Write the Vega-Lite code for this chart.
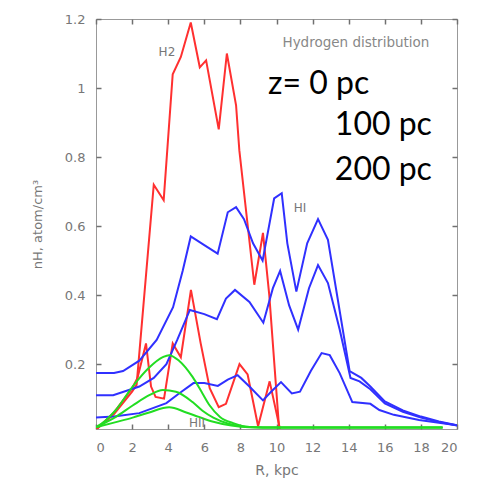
{
  "$schema": "https://vega.github.io/schema/vega-lite/v6.json",
  "width": 361,
  "height": 410,
  "autosize": {"type": "none"},
  "padding": {"left": 96, "top": 19, "right": 28, "bottom": 50},
  "background": "white",
  "config": {
    "view": {"stroke": "#999999", "strokeWidth": 1},
    "axis": {"labelFont": "DejaVu Sans", "titleFont": "DejaVu Sans", "labelColor": "#777777", "titleColor": "#777777", "domain": false, "grid": false}
  },
  "datasets": {
    "curves": [
      {"gas":"H2","z":0,"R":0,"v":0.01},{"gas":"H2","z":0,"R":1,"v":0.055},{"gas":"H2","z":0,"R":2,"v":0.12},{"gas":"H2","z":0,"R":2.25,"v":0.14},{"gas":"H2","z":0,"R":3.2,"v":0.72},{"gas":"H2","z":0,"R":3.75,"v":0.675},{"gas":"H2","z":0,"R":4.25,"v":1.04},{"gas":"H2","z":0,"R":4.7,"v":1.09},{"gas":"H2","z":0,"R":5.25,"v":1.19},{"gas":"H2","z":0,"R":5.75,"v":1.06},{"gas":"H2","z":0,"R":6.1,"v":1.08},{"gas":"H2","z":0,"R":6.8,"v":0.88},{"gas":"H2","z":0,"R":7.25,"v":1.1},{"gas":"H2","z":0,"R":7.76,"v":0.95},{"gas":"H2","z":0,"R":7.94,"v":0.82},{"gas":"H2","z":0,"R":8.77,"v":0.43},{"gas":"H2","z":0,"R":9.25,"v":0.58},{"gas":"H2","z":0,"R":9.6,"v":0.4},{"gas":"H2","z":0,"R":10.15,"v":0.01},
      {"gas":"H2","z":100,"R":0,"v":0.01},{"gas":"H2","z":100,"R":1,"v":0.06},{"gas":"H2","z":100,"R":2,"v":0.13},{"gas":"H2","z":100,"R":2.3,"v":0.16},{"gas":"H2","z":100,"R":2.77,"v":0.26},{"gas":"H2","z":100,"R":3.05,"v":0.135},{"gas":"H2","z":100,"R":3.3,"v":0.105},{"gas":"H2","z":100,"R":3.77,"v":0.1},{"gas":"H2","z":100,"R":4.25,"v":0.26},{"gas":"H2","z":100,"R":4.7,"v":0.22},{"gas":"H2","z":100,"R":5.26,"v":0.415},{"gas":"H2","z":100,"R":5.8,"v":0.26},{"gas":"H2","z":100,"R":6.3,"v":0.13},{"gas":"H2","z":100,"R":6.8,"v":0.075},{"gas":"H2","z":100,"R":7.2,"v":0.085},{"gas":"H2","z":100,"R":7.95,"v":0.2},{"gas":"H2","z":100,"R":8.4,"v":0.17},{"gas":"H2","z":100,"R":8.98,"v":0.02},{"gas":"H2","z":100,"R":9.62,"v":0.15},{"gas":"H2","z":100,"R":10.2,"v":0.01},
      {"gas":"HI","z":0,"R":0,"v":0.174},{"gas":"HI","z":0,"R":1,"v":0.174},{"gas":"HI","z":0,"R":1.5,"v":0.18},{"gas":"HI","z":0,"R":2.4,"v":0.21},{"gas":"HI","z":0,"R":3.36,"v":0.27},{"gas":"HI","z":0,"R":4.27,"v":0.365},{"gas":"HI","z":0,"R":4.8,"v":0.47},{"gas":"HI","z":0,"R":5.25,"v":0.57},{"gas":"HI","z":0,"R":6,"v":0.545},{"gas":"HI","z":0,"R":6.74,"v":0.52},{"gas":"HI","z":0,"R":7.3,"v":0.64},{"gas":"HI","z":0,"R":7.76,"v":0.655},{"gas":"HI","z":0,"R":8.2,"v":0.62},{"gas":"HI","z":0,"R":8.7,"v":0.55},{"gas":"HI","z":0,"R":9.23,"v":0.5},{"gas":"HI","z":0,"R":9.87,"v":0.68},{"gas":"HI","z":0,"R":10.29,"v":0.695},{"gas":"HI","z":0,"R":10.6,"v":0.55},{"gas":"HI","z":0,"R":11.1,"v":0.41},{"gas":"HI","z":0,"R":11.7,"v":0.55},{"gas":"HI","z":0,"R":12.3,"v":0.62},{"gas":"HI","z":0,"R":12.85,"v":0.56},{"gas":"HI","z":0,"R":14.05,"v":0.18},{"gas":"HI","z":0,"R":14.7,"v":0.16},{"gas":"HI","z":0,"R":15.2,"v":0.135},{"gas":"HI","z":0,"R":16,"v":0.092},{"gas":"HI","z":0,"R":17,"v":0.066},{"gas":"HI","z":0,"R":18,"v":0.048},{"gas":"HI","z":0,"R":19,"v":0.034},{"gas":"HI","z":0,"R":20,"v":0.023},
      {"gas":"HI","z":100,"R":0,"v":0.11},{"gas":"HI","z":100,"R":0.95,"v":0.11},{"gas":"HI","z":100,"R":2.4,"v":0.135},{"gas":"HI","z":100,"R":3.2,"v":0.16},{"gas":"HI","z":100,"R":3.9,"v":0.2},{"gas":"HI","z":100,"R":4.5,"v":0.27},{"gas":"HI","z":100,"R":5.2,"v":0.357},{"gas":"HI","z":100,"R":6,"v":0.345},{"gas":"HI","z":100,"R":6.7,"v":0.33},{"gas":"HI","z":100,"R":7.2,"v":0.39},{"gas":"HI","z":100,"R":7.7,"v":0.415},{"gas":"HI","z":100,"R":8.5,"v":0.38},{"gas":"HI","z":100,"R":9.27,"v":0.32},{"gas":"HI","z":100,"R":9.8,"v":0.42},{"gas":"HI","z":100,"R":10.2,"v":0.47},{"gas":"HI","z":100,"R":10.7,"v":0.37},{"gas":"HI","z":100,"R":11.2,"v":0.3},{"gas":"HI","z":100,"R":11.8,"v":0.42},{"gas":"HI","z":100,"R":12.3,"v":0.487},{"gas":"HI","z":100,"R":12.85,"v":0.435},{"gas":"HI","z":100,"R":13.5,"v":0.3},{"gas":"HI","z":100,"R":14.1,"v":0.16},{"gas":"HI","z":100,"R":14.6,"v":0.15},{"gas":"HI","z":100,"R":15.2,"v":0.127},{"gas":"HI","z":100,"R":16,"v":0.086},{"gas":"HI","z":100,"R":17,"v":0.062},{"gas":"HI","z":100,"R":18,"v":0.045},{"gas":"HI","z":100,"R":19,"v":0.032},{"gas":"HI","z":100,"R":20,"v":0.022},
      {"gas":"HI","z":200,"R":0,"v":0.045},{"gas":"HI","z":200,"R":1,"v":0.048},{"gas":"HI","z":200,"R":2.4,"v":0.058},{"gas":"HI","z":200,"R":3.9,"v":0.087},{"gas":"HI","z":200,"R":4.6,"v":0.115},{"gas":"HI","z":200,"R":5.4,"v":0.145},{"gas":"HI","z":200,"R":6,"v":0.145},{"gas":"HI","z":200,"R":6.75,"v":0.137},{"gas":"HI","z":200,"R":7.3,"v":0.155},{"gas":"HI","z":200,"R":7.85,"v":0.168},{"gas":"HI","z":200,"R":8.5,"v":0.135},{"gas":"HI","z":200,"R":9.25,"v":0.095},{"gas":"HI","z":200,"R":9.7,"v":0.12},{"gas":"HI","z":200,"R":10.25,"v":0.148},{"gas":"HI","z":200,"R":10.85,"v":0.115},{"gas":"HI","z":200,"R":11.3,"v":0.12},{"gas":"HI","z":200,"R":11.9,"v":0.18},{"gas":"HI","z":200,"R":12.5,"v":0.232},{"gas":"HI","z":200,"R":12.95,"v":0.226},{"gas":"HI","z":200,"R":13.5,"v":0.174},{"gas":"HI","z":200,"R":14.2,"v":0.09},{"gas":"HI","z":200,"R":15.2,"v":0.085},{"gas":"HI","z":200,"R":15.7,"v":0.067},{"gas":"HI","z":200,"R":16.5,"v":0.053},{"gas":"HI","z":200,"R":17.9,"v":0.038},{"gas":"HI","z":200,"R":19,"v":0.03},{"gas":"HI","z":200,"R":20,"v":0.023},
      {"gas":"HII","z":0,"R":0,"v":0.017},{"gas":"HII","z":0,"R":0.5,"v":0.035},{"gas":"HII","z":0,"R":1.1,"v":0.067},{"gas":"HII","z":0,"R":2.03,"v":0.135},{"gas":"HII","z":0,"R":2.95,"v":0.19},{"gas":"HII","z":0,"R":3.7,"v":0.22},{"gas":"HII","z":0,"R":4.05,"v":0.226},{"gas":"HII","z":0,"R":4.6,"v":0.21},{"gas":"HII","z":0,"R":5.35,"v":0.163},{"gas":"HII","z":0,"R":5.9,"v":0.115},{"gas":"HII","z":0,"R":6.3,"v":0.08},{"gas":"HII","z":0,"R":6.87,"v":0.047},{"gas":"HII","z":0,"R":7.6,"v":0.029},{"gas":"HII","z":0,"R":8.5,"v":0.018},{"gas":"HII","z":0,"R":10,"v":0.016},{"gas":"HII","z":0,"R":19.2,"v":0.016},
      {"gas":"HII","z":100,"R":0,"v":0.017},{"gas":"HII","z":100,"R":1.1,"v":0.047},{"gas":"HII","z":100,"R":2.03,"v":0.08},{"gas":"HII","z":100,"R":2.95,"v":0.11},{"gas":"HII","z":100,"R":3.7,"v":0.125},{"gas":"HII","z":100,"R":4.43,"v":0.12},{"gas":"HII","z":100,"R":5.35,"v":0.09},{"gas":"HII","z":100,"R":5.9,"v":0.065},{"gas":"HII","z":100,"R":6.5,"v":0.045},{"gas":"HII","z":100,"R":7.3,"v":0.028},{"gas":"HII","z":100,"R":8.5,"v":0.018},{"gas":"HII","z":100,"R":10,"v":0.016},{"gas":"HII","z":100,"R":19.2,"v":0.016},
      {"gas":"HII","z":200,"R":0,"v":0.017},{"gas":"HII","z":200,"R":1.1,"v":0.032},{"gas":"HII","z":200,"R":2.03,"v":0.045},{"gas":"HII","z":200,"R":2.95,"v":0.06},{"gas":"HII","z":200,"R":4.05,"v":0.075},{"gas":"HII","z":200,"R":5,"v":0.06},{"gas":"HII","z":200,"R":5.7,"v":0.047},{"gas":"HII","z":200,"R":6.5,"v":0.033},{"gas":"HII","z":200,"R":7.5,"v":0.022},{"gas":"HII","z":200,"R":8.5,"v":0.017},{"gas":"HII","z":200,"R":10,"v":0.016},{"gas":"HII","z":200,"R":19.2,"v":0.016}
    ],
    "small": [
      {"t":"H2","R":3.93,"v":1.104},
      {"t":"HI","R":11.3,"v":0.652},
      {"t":"HII","R":5.6,"v":0.029}
    ],
    "note": [
      {"t":"Hydrogen distribution","R":14.4,"v":1.13}
    ],
    "bigleft": [
      {"t":"z= 0 pc","R":9.53,"v":0.983}
    ],
    "bigright": [
      {"t":"100 pc","R":18.61,"v":0.864},
      {"t":"200 pc","R":18.61,"v":0.733}
    ]
  },
  "resolve": {"axis": {"x": "independent", "y": "independent"}},
  "layer": [
    {
      "data": {"name": "curves"},
      "transform": [{"filter": "datum.gas === 'H2'"}],
      "mark": {"type": "line", "color": "#ff3030", "strokeWidth": 2, "clip": true},
      "encoding": {
        "x": {"field": "R", "type": "quantitative", "scale": {"domain": [0, 20], "nice": false},
          "axis": {"orient": "bottom", "values": [0,2,4,6,8,10,12,14,16,18,20], "offset": -5, "ticks": true, "tickSize": 5, "tickColor": "#707070", "tickWidth": 1.5, "tickOpacity": 1, "labelPadding": 12, "labelFontSize": 13, "title": "R, kpc", "titleFontSize": 14, "titleFontWeight": "normal", "titlePadding": 9}},
        "y": {"field": "v", "type": "quantitative", "scale": {"domain": [0.012, 1.2], "nice": false, "zero": false},
          "axis": {"orient": "left", "values": [0.2,0.4,0.6,0.8,1,1.2], "format": "~g", "offset": -5, "ticks": true, "tickSize": 5, "tickColor": "#707070", "tickWidth": 1.5, "tickOpacity": 1, "labelPadding": 11, "labelFontSize": 13, "title": "nH, atom/cm³", "titleFontSize": 13, "titleFontWeight": "normal", "titlePadding": 20}},
        "detail": {"field": "z"}
      }
    },
    {
      "data": {"name": "curves"},
      "transform": [{"filter": "datum.gas === 'HI'"}],
      "mark": {"type": "line", "color": "#3030ff", "strokeWidth": 2, "clip": true},
      "encoding": {
        "x": {"field": "R", "type": "quantitative", "axis": {"orient": "top", "values": [0,2,4,6,8,10,12,14,16,18,20], "offset": -5, "ticks": true, "tickSize": 5, "tickColor": "#707070", "tickWidth": 1.5, "tickOpacity": 1, "labels": false, "title": null}},
        "y": {"field": "v", "type": "quantitative", "axis": {"orient": "right", "values": [0.2,0.4,0.6,0.8,1,1.2], "offset": -5, "ticks": true, "tickSize": 5, "tickColor": "#707070", "tickWidth": 1.5, "tickOpacity": 1, "labels": false, "title": null}},
        "detail": {"field": "z"}
      }
    },
    {
      "data": {"name": "curves"},
      "transform": [{"filter": "datum.gas === 'HII'"}],
      "mark": {"type": "line", "color": "#22dd22", "strokeWidth": 2, "clip": true, "interpolate": "monotone"},
      "encoding": {
        "x": {"field": "R", "type": "quantitative", "axis": null},
        "y": {"field": "v", "type": "quantitative", "axis": null},
        "detail": {"field": "z"}
      }
    },
    {
      "data": {"name": "small"},
      "mark": {"type": "text", "font": "DejaVu Sans", "fontSize": 12, "color": "#777777", "align": "center", "baseline": "middle"},
      "encoding": {
        "x": {"field": "R", "type": "quantitative", "axis": null},
        "y": {"field": "v", "type": "quantitative", "axis": null},
        "text": {"field": "t"}
      }
    },
    {
      "data": {"name": "note"},
      "mark": {"type": "text", "font": "DejaVu Sans", "fontSize": 13.5, "color": "#888888", "align": "center", "baseline": "middle"},
      "encoding": {
        "x": {"field": "R", "type": "quantitative", "axis": null},
        "y": {"field": "v", "type": "quantitative", "axis": null},
        "text": {"field": "t"}
      }
    },
    {
      "data": {"name": "bigleft"},
      "mark": {"type": "text", "font": "Lato", "fontSize": 32, "color": "#000000", "align": "left", "baseline": "alphabetic"},
      "encoding": {
        "x": {"field": "R", "type": "quantitative", "axis": null},
        "y": {"field": "v", "type": "quantitative", "axis": null},
        "text": {"field": "t"}
      }
    },
    {
      "data": {"name": "bigright"},
      "mark": {"type": "text", "font": "Lato", "fontSize": 32, "color": "#000000", "align": "right", "baseline": "alphabetic"},
      "encoding": {
        "x": {"field": "R", "type": "quantitative", "axis": null},
        "y": {"field": "v", "type": "quantitative", "axis": null},
        "text": {"field": "t"}
      }
    }
  ]
}
